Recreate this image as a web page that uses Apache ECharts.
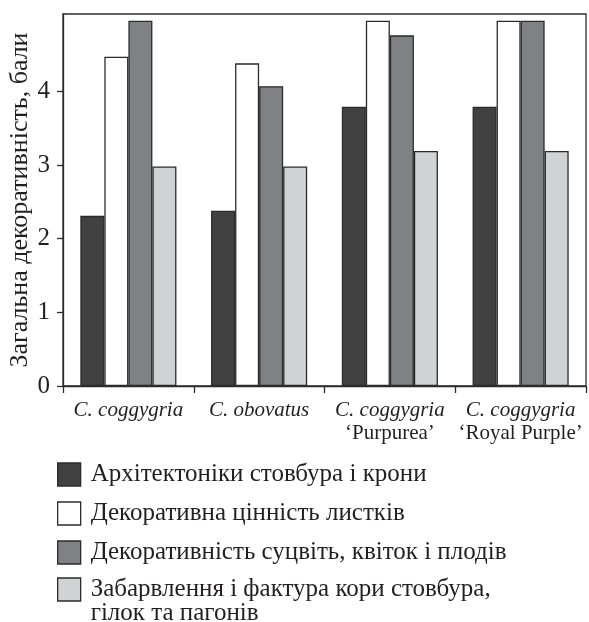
<!DOCTYPE html>
<html><head><meta charset="utf-8">
<script src="https://cdn.jsdelivr.net/npm/echarts@6/dist/echarts.min.js"></script>
<style>html,body{margin:0;padding:0;background:#fff}#c{width:589px;height:622px}</style>
</head><body><div id="c"></div>
<script>
const categories = ['C. coggygria', 'C. obovatus', "C. coggygria|‘Purpurea’", "C. coggygria|‘Royal Purple’"];
const seriesNames = [
  'Архітектоніки стовбура і крони',
  'Декоративна цінність листків',
  'Декоративність суцвіть, квіток і плодів',
  'Забарвлення і фактура кори стовбура, гілок та пагонів'
];
const architecture = [2.31, 2.38, 3.79, 3.79];
const leaves = [4.47, 4.38, 4.96, 4.96];
const flowers = [4.96, 4.07, 4.76, 4.96];
const bark = [2.98, 2.98, 3.19, 3.19];
const yTicks = [0, 1, 2, 3, 4];
const colors = ['#414141', '#ffffff', '#808184', '#d1d2d4'];

const font = 'Liberation Serif';
const txt = '#231f20';
const values = [architecture, leaves, flowers, bark];
const legendRich = {
  t: {fontFamily: font, fontSize: 25, color: txt, lineHeight: 23, padding: [0, 0, 0, 5]},
  e: {fontFamily: font, fontSize: 25, color: txt, lineHeight: 24},
  u: {fontFamily: font, fontSize: 25, color: txt, lineHeight: 24, padding: [0, 0, 0, 5]}
};
const chart = echarts.init(document.getElementById('c'));
chart.setOption({
  animation: false,
  grid: {left: 63, right: 3, top: 14, bottom: 236, outerBoundsMode: 'none', containLabel: false, show: true, borderColor: '#2b2b2b', borderWidth: 1.3, backgroundColor: 'transparent'},
  legend: [
    {
      data: seriesNames.slice(0, 3), orient: 'vertical', left: 57, top: 462, padding: 0,
      itemWidth: 23, itemHeight: 23, itemGap: 14, icon: 'rect',
      itemStyle: {borderColor: '#2b2b2b', borderWidth: 1.3},
      formatter: n => '{t|' + n + '}',
      textStyle: {rich: legendRich}
    },
    {
      data: [seriesNames[3]], orient: 'vertical', left: 57, top: 553, padding: 0,
      itemWidth: 23, itemHeight: 23, icon: 'rect',
      itemStyle: {borderColor: '#2b2b2b', borderWidth: 1.3},
      formatter: n => { const p = n.split(', '); return '{e| }\n{u|' + p[0] + ',}\n{u|' + p[1] + '}'; },
      textStyle: {rich: legendRich}
    }
  ],
  xAxis: {
    type: 'category', data: categories,
    axisLine: {lineStyle: {color: '#2b2b2b', width: 1.3}},
    axisTick: {show: true, interval: 0, length: 7, lineStyle: {color: '#2b2b2b', width: 1.3}},
    axisLabel: {
      interval: 0, margin: 13,
      formatter: v => { const p = v.split('|'); return p.length > 1 ? '{i|' + p[0] + '}\n{n|' + p[1] + '}' : '{i|' + p[0] + '}'; },
      rich: {
        i: {fontFamily: font, fontStyle: 'italic', fontSize: 21, lineHeight: 23, color: txt},
        n: {fontFamily: font, fontSize: 21, lineHeight: 23, color: txt}
      }
    }
  },
  yAxis: {
    type: 'value', min: 0, max: 5.05,
    name: 'Загальна декоративність, бали', nameLocation: 'middle', nameGap: 30, nameMoveOverlap: false,
    nameTextStyle: {fontFamily: font, fontSize: 26, color: txt},
    axisLine: {show: true, lineStyle: {color: '#2b2b2b', width: 1.3}},
    axisTick: {show: true, length: 6, customValues: yTicks, lineStyle: {color: '#2b2b2b', width: 1.3}},
    axisLabel: {customValues: yTicks, margin: 13, fontFamily: font, fontSize: 25, color: txt},
    splitLine: {show: false}
  },
  series: seriesNames.map((n, i) => ({
    name: n, type: 'bar', data: values[i],
    barGap: '0%', barCategoryGap: '26.5%',
    itemStyle: {color: colors[i], borderColor: '#2b2b2b', borderWidth: 1.3}
  }))
});
</script></body></html>
